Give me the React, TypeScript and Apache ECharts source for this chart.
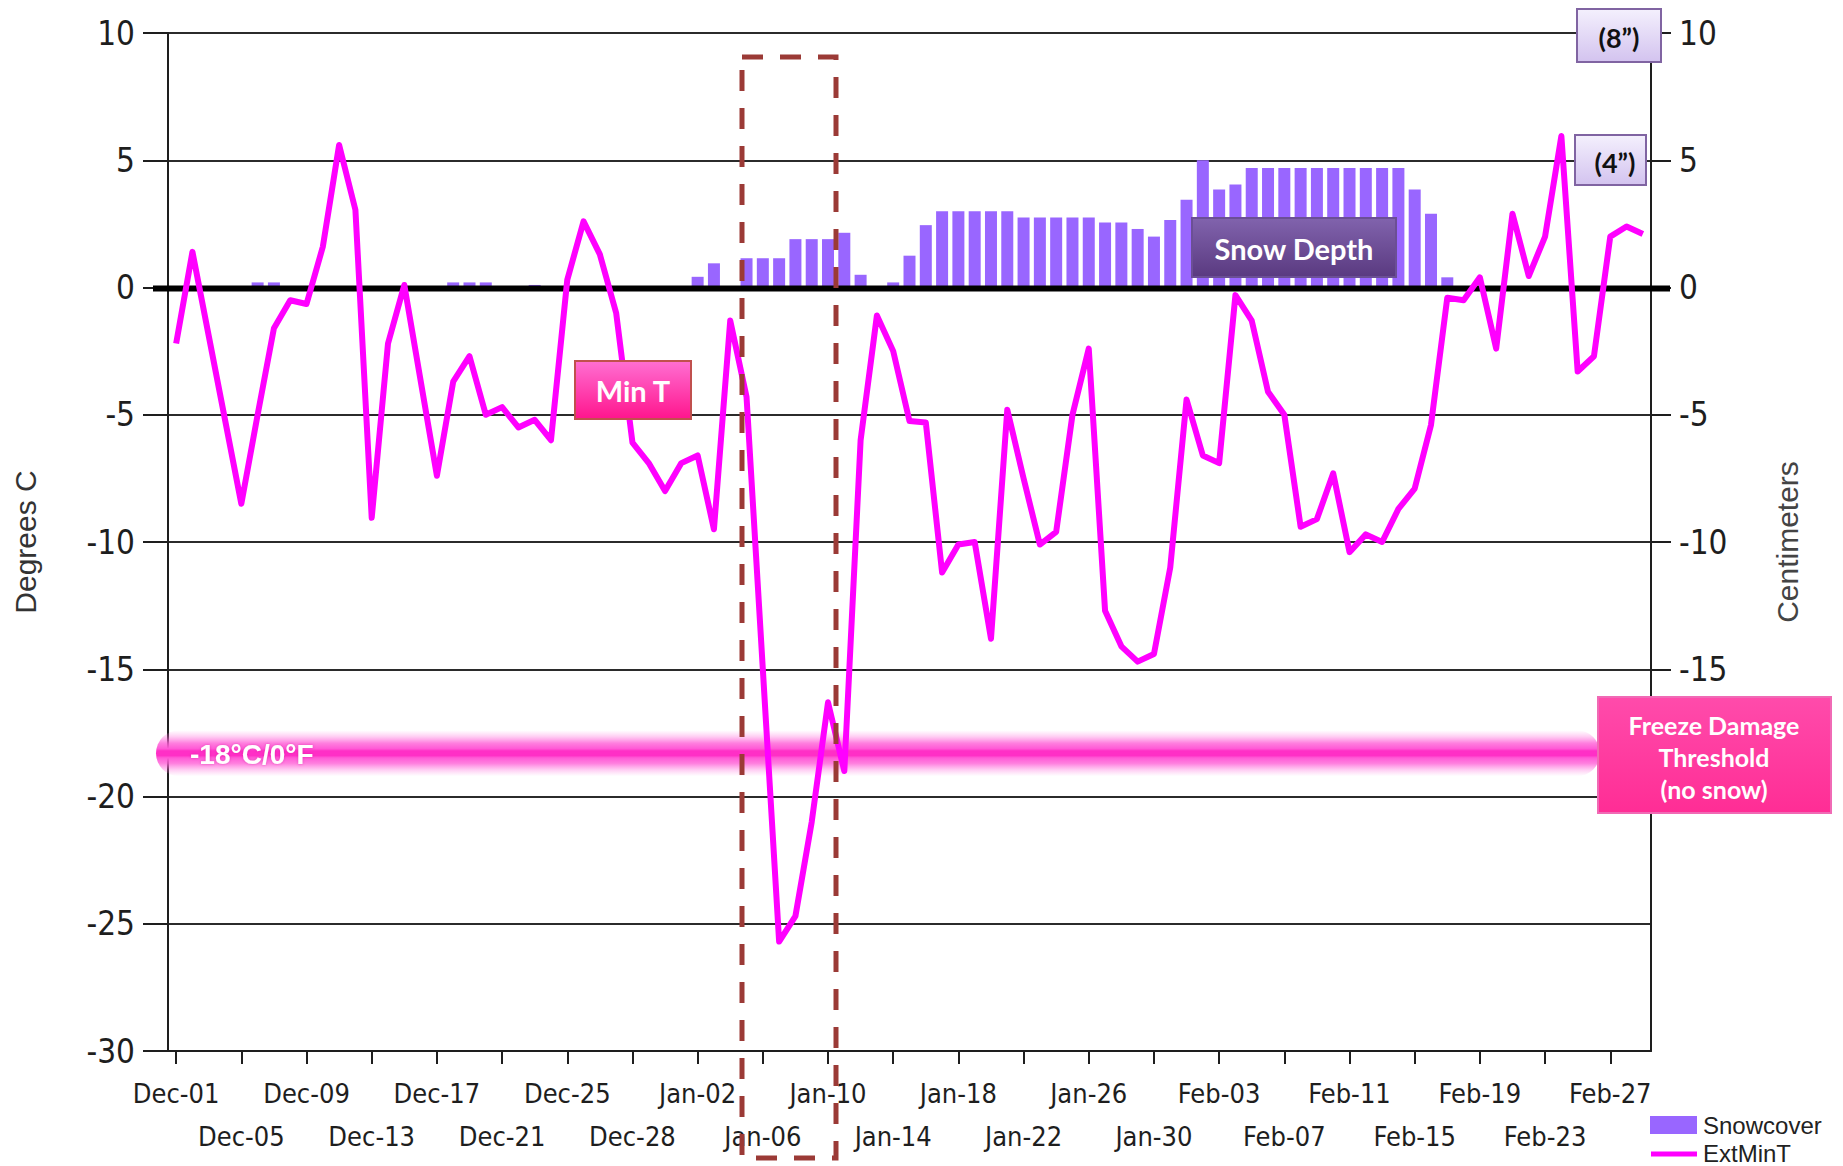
import React, { useEffect, useRef } from 'react';
import * as echarts from 'echarts';

// ---------- data ----------
const months: [string, number][] = [['Dec', 31], ['Jan', 31], ['Feb', 29]];
const categories: string[] = [];
months.forEach(([m, n]) => {
  for (let d = 1; d <= n; d++) categories.push(`${m}-${String(d).padStart(2, '0')}`);
});

// tick labels every 4 days, alternating between an upper and a lower row
const tickLabels = [
  'Dec-01', 'Dec-05', 'Dec-09', 'Dec-13', 'Dec-17', 'Dec-21', 'Dec-25', 'Dec-28',
  'Jan-02', 'Jan-06', 'Jan-10', 'Jan-14', 'Jan-18', 'Jan-22', 'Jan-26', 'Jan-30',
  'Feb-03', 'Feb-07', 'Feb-11', 'Feb-15', 'Feb-19', 'Feb-23', 'Feb-27',
];

const extMinT = [
  -2.2, 1.4, -1.9, -5.2, -8.5, -5.0, -1.6, -0.5, -0.65, 1.6,
  5.6, 3.05, -9.05, -2.2, 0.1, -3.65, -7.4, -3.7, -2.7, -5.0,
  -4.7, -5.5, -5.2, -6.0, 0.3, 2.6, 1.3, -1.0, -6.1, -6.9,
  -8.0, -6.9, -6.6, -9.5, -1.3, -4.3, -15.0, -25.7, -24.7, -21.0,
  -16.3, -19.0, -6.0, -1.1, -2.5, -5.25, -5.3, -11.2, -10.1, -10.0,
  -13.8, -4.8, -7.5, -10.1, -9.6, -5.0, -2.4, -12.7, -14.1, -14.7,
  -14.4, -11.0, -4.4, -6.6, -6.9, -0.3, -1.3, -4.1, -5.0, -9.4,
  -9.1, -7.3, -10.4, -9.7, -10.0, -8.7, -7.9, -5.4, -0.4, -0.5,
  0.4, -2.4, 2.9, 0.45, 2.0, 5.95, -3.3, -2.7, 2.0, 2.4,
  2.1,
];

const snowcover = [
  0, 0, 0, 0, 0, 0.2, 0.2, 0, 0, 0,
  0, 0, 0, 0, 0, 0, 0, 0.2, 0.2, 0.2,
  0, 0, 0.1, 0, 0, 0, 0, 0, 0, 0,
  0, 0, 0.42, 0.95, 0, 1.15, 1.15, 1.15, 1.9, 1.9,
  1.9, 2.15, 0.5, 0, 0.2, 1.25, 2.45, 3.0, 3.0, 3.0,
  3.0, 3.0, 2.75, 2.75, 2.75, 2.75, 2.75, 2.55, 2.55, 2.3,
  2.0, 2.65, 3.45, 5.0, 3.85, 4.05, 4.7, 4.7, 4.7, 4.7,
  4.7, 4.7, 4.7, 4.7, 4.7, 4.7, 3.85, 2.9, 0.4, 0,
  0, 0, 0, 0, 0, 0, 0, 0, 0, 0,
  0,
];

const tempMin = -30;
const tempMax = 10;
const rightLabelMin = -15;
const tickStep = 5;
const zeroLevel = 0;
const freezeBandLevel = -18.3;

// ---------- styles ----------
const AXIS_FONT = "'Liberation Sans Narrow', 'Arial Narrow', 'DejaVu Sans Condensed', 'Liberation Sans', Arial, sans-serif";
const PLAIN_FONT = "'Liberation Sans', Arial, sans-serif";
const BOX_FONT = "Lato, 'Open Sans', 'Noto Sans', sans-serif";
const AXIS_COLOR = '#1e1e1e';

const W = 1843;
const H = 1166;
const GRID_LEFT = 168;
const GRID_RIGHT = 192;
const GRID_TOP = 33;
const GRID_BOTTOM = 115;

const labelFor = (index: number) => tickLabels[index / 4] ?? '';

export default function App() {
  const ref = useRef<HTMLDivElement>(null);

  useEffect(() => {
    if (!ref.current) return;
    const chart = echarts.init(ref.current, undefined, { renderer: 'svg', width: W, height: H });
    const plotH = H - GRID_TOP - GRID_BOTTOM;
    const rightH = (plotH * (tempMax - rightLabelMin)) / (tempMax - tempMin);

    const xLabelBase = {
      fontSize: 27,
      lineHeight: 30,
      color: AXIS_COLOR,
      fontFamily: AXIS_FONT,
      hideOverlap: false,
    };

    const option: any = {
      animation: false,
      backgroundColor: '#ffffff',
      grid: [
        { left: GRID_LEFT, right: GRID_RIGHT, top: GRID_TOP, bottom: GRID_BOTTOM },
        { left: GRID_LEFT, right: GRID_RIGHT, top: GRID_TOP, height: rightH },
      ],
      xAxis: [
        {
          type: 'category',
          gridIndex: 0,
          position: 'bottom',
          data: categories,
          boundaryGap: true,
          axisLine: { show: true, onZero: false, lineStyle: { color: AXIS_COLOR, width: 2 } },
          axisTick: { show: true, alignWithLabel: true, interval: 3, length: 13, lineStyle: { color: AXIS_COLOR, width: 2 } },
          axisLabel: {
            ...xLabelBase,
            interval: (index: number) => index % 8 === 0,
            margin: 27,
            formatter: (_v: string, index: number) => labelFor(index),
          },
          splitLine: { show: false },
        },
        {
          type: 'category',
          gridIndex: 0,
          position: 'bottom',
          data: categories,
          boundaryGap: true,
          axisLine: { show: false, onZero: false },
          axisTick: { show: false },
          axisLabel: {
            ...xLabelBase,
            interval: (index: number) => index % 8 === 4,
            margin: 70,
            formatter: (_v: string, index: number) => labelFor(index),
          },
          splitLine: { show: false },
        },
        { type: 'category', gridIndex: 1, data: categories, show: false },
      ],
      yAxis: [
        {
          type: 'value',
          gridIndex: 0,
          position: 'left',
          min: tempMin,
          max: tempMax,
          interval: tickStep,
          name: 'Degrees C',
          nameLocation: 'middle',
          nameRotate: 90,
          nameGap: 128,
          nameTextStyle: { fontSize: 30, color: '#333333', fontFamily: PLAIN_FONT },
          axisLine: { show: true, lineStyle: { color: AXIS_COLOR, width: 2 } },
          axisTick: { show: true, length: 25, lineStyle: { color: AXIS_COLOR, width: 2 } },
          axisLabel: { fontSize: 33, color: AXIS_COLOR, margin: 33, fontFamily: AXIS_FONT },
          splitLine: { show: true, lineStyle: { color: '#2b2b2b', width: 2 } },
        },
        {
          type: 'value',
          gridIndex: 0,
          position: 'right',
          min: tempMin,
          max: tempMax,
          interval: tickStep,
          name: 'Centimeters',
          nameLocation: 'middle',
          nameRotate: 90,
          nameGap: 121,
          nameTextStyle: { fontSize: 30, color: '#444444', fontFamily: PLAIN_FONT },
          axisLine: { show: true, lineStyle: { color: AXIS_COLOR, width: 2 } },
          axisTick: { show: false },
          axisLabel: { show: false },
          splitLine: { show: false },
        },
        {
          type: 'value',
          gridIndex: 1,
          position: 'right',
          min: rightLabelMin,
          max: tempMax,
          interval: tickStep,
          axisLine: { show: false },
          axisTick: { show: true, length: 20, lineStyle: { color: AXIS_COLOR, width: 2 } },
          axisLabel: { fontSize: 33, color: AXIS_COLOR, margin: 28, fontFamily: AXIS_FONT },
          splitLine: { show: false },
        },
      ],
      series: [
        {
          name: 'Snowcover',
          type: 'bar',
          xAxisIndex: 0,
          yAxisIndex: 1,
          data: snowcover,
          barWidth: 12,
          itemStyle: { color: '#9966ff' },
          z: 2,
        },
        {
          name: 'ExtMinT',
          type: 'line',
          xAxisIndex: 0,
          yAxisIndex: 0,
          data: extMinT,
          symbol: 'none',
          lineStyle: { color: '#ff00ff', width: 6, join: 'round' },
          z: 4,
        },
      ],
    };
    chart.setOption(option);

    const y0 = chart.convertToPixel({ yAxisIndex: 0 }, zeroLevel) as number;
    const yF = chart.convertToPixel({ yAxisIndex: 0 }, freezeBandLevel) as number;

    const pinkBand = new echarts.graphic.LinearGradient(0, 0, 0, 1, [
      { offset: 0, color: 'rgba(255,130,225,0)' },
      { offset: 0.14, color: 'rgba(255,110,220,0.35)' },
      { offset: 0.28, color: 'rgba(255,95,215,0.8)' },
      { offset: 0.4, color: '#ff5ad6' },
      { offset: 0.45, color: '#ff2fc6' },
      { offset: 0.55, color: '#ff2fc6' },
      { offset: 0.6, color: '#ff5ad6' },
      { offset: 0.72, color: 'rgba(255,95,215,0.8)' },
      { offset: 0.86, color: 'rgba(255,110,220,0.35)' },
      { offset: 1, color: 'rgba(255,130,225,0)' },
    ]);

    const box = (x: number, y: number, w: number, h: number, top: string, bottom: string, stroke: string) => ({
      type: 'rect',
      z: 20,
      shape: { x, y, width: w, height: h },
      style: {
        fill: new echarts.graphic.LinearGradient(0, 0, 0, 1, [
          { offset: 0, color: top },
          { offset: 1, color: bottom },
        ]),
        stroke,
        lineWidth: 2,
      },
    });
    const label = (text: string, x: number, y: number, size: number, fill: string, extra: any = {}) => ({
      type: 'text',
      z: 21,
      x,
      y,
      style: {
        text,
        fill,
        font: `bold ${size}px ${BOX_FONT}`,
        align: 'center',
        verticalAlign: 'middle',
        ...extra,
      },
    });

    chart.setOption({
      graphic: [
        // freeze threshold glowing band
        {
          type: 'rect',
          z: 1,
          shape: { x: 156, y: yF - 23, width: 1444, height: 46, r: 23 },
          style: { fill: pinkBand },
        },
        {
          type: 'text',
          z: 6,
          x: 190,
          y: yF + 1,
          style: {
            text: '-18°C/0°F',
            fill: '#ffffff',
            font: `bold 28px ${PLAIN_FONT}`,
            align: 'left',
            verticalAlign: 'middle',
            textShadowColor: 'rgba(200,0,140,0.45)',
            textShadowBlur: 3,
          },
        },
        // zero line
        {
          type: 'line',
          z: 3,
          shape: { x1: 153, y1: y0 + 1, x2: 1670, y2: y0 + 1 },
          style: { stroke: '#000000', lineWidth: 6 },
        },
        // dashed highlight box
        {
          type: 'rect',
          z: 15,
          shape: { x: 742, y: 57, width: 94, height: 1101 },
          style: { fill: 'none', stroke: '#9b3a36', lineWidth: 5, lineDash: [21, 17] },
        },
        // Snow Depth
        box(1192, 218, 204, 59, '#8163ad', '#5a3a80', '#6b4f95'),
        label('Snow Depth', 1294, 248, 29, '#ffffff'),
        // Min T
        box(575, 361, 116, 58, '#ff6fd2', '#ff158d', '#c0504d'),
        label('Min T', 633, 390, 29, '#ffffff'),
        // (8")
        box(1577, 9, 84, 53, '#f4f0fd', '#d3c3ef', '#8064a2'),
        label('(8\u201D)', 1619, 37, 27, '#111111'),
        // (4")
        box(1575, 135, 71, 50, '#f4f0fd', '#d3c3ef', '#8064a2'),
        label('(4\u201D)', 1615, 162, 27, '#111111'),
        // Freeze damage threshold
        box(1598, 697, 233, 116, '#ff4bab', '#ff2d95', '#f06ab5'),
        label('Freeze Damage\nThreshold\n(no snow)', 1714, 757, 25, '#ffffff', { lineHeight: 32 }),
        // legend
        {
          type: 'rect',
          z: 20,
          shape: { x: 1650, y: 1116, width: 47, height: 18 },
          style: { fill: '#9966ff' },
        },
        {
          type: 'text',
          z: 20,
          x: 1703,
          y: 1125,
          style: { text: 'Snowcover', fill: '#222222', font: `24px ${PLAIN_FONT}`, align: 'left', verticalAlign: 'middle' },
        },
        {
          type: 'line',
          z: 20,
          shape: { x1: 1651, y1: 1154, x2: 1697, y2: 1154 },
          style: { stroke: '#ff00ff', lineWidth: 5 },
        },
        {
          type: 'text',
          z: 20,
          x: 1703,
          y: 1153,
          style: { text: 'ExtMinT', fill: '#222222', font: `24px ${PLAIN_FONT}`, align: 'left', verticalAlign: 'middle' },
        },
      ],
    });

    return () => chart.dispose();
  }, []);

  return (
    <div
      ref={ref}
      style={{ position: 'fixed', left: 0, top: 0, width: W, height: H, background: '#fff' }}
    />
  );
}
